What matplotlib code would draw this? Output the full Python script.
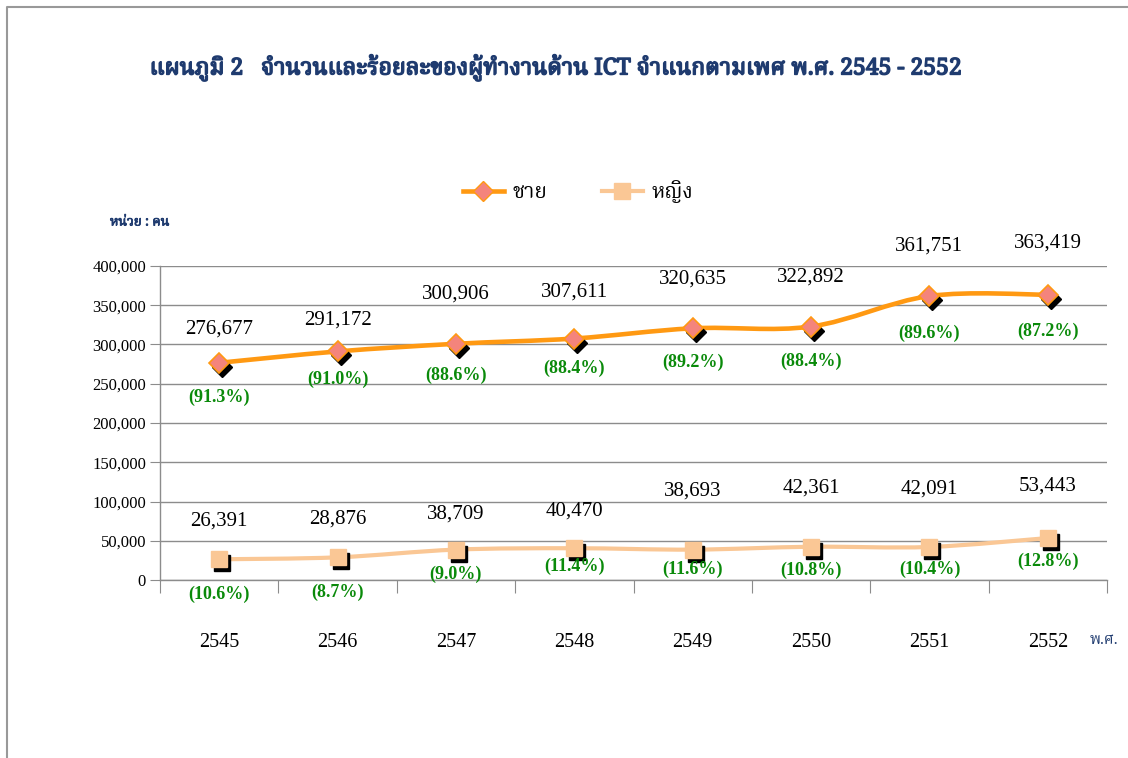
import matplotlib
matplotlib.use("Agg")
import matplotlib.pyplot as plt
from matplotlib import font_manager as fm
from matplotlib.path import Path
from matplotlib.patches import PathPatch
from matplotlib.lines import Line2D
import matplotlib.transforms as mtransforms
import matplotlib.patheffects as pe

# ---------------- data ----------------
years = ["2545", "2546", "2547", "2548", "2549", "2550", "2551", "2552"]
male = [276677, 291172, 300906, 307611, 320635, 322892, 361751, 363419]
female = [26391, 28876, 38709, 40470, 38693, 42361, 42091, 53443]
male_pct = [91.3, 91.0, 88.6, 88.4, 89.2, 88.4, 89.6, 87.2]
female_pct = [10.6, 8.7, 9.0, 11.4, 11.6, 10.8, 10.4, 12.8]
yticks = [0, 50000, 100000, 150000, 200000, 250000, 300000, 350000, 400000]

title = "แผนภูมิ 2   จำนวนและร้อยละของผู้ทำงานด้าน ICT จำแนกตามเพศ พ.ศ. 2545 - 2552"
legend_labels = ["ชาย", "หญิง"]
unit_label = "หน่วย : คน"
xunit_label = "พ.ศ."

# label offsets in pixels (style)
male_val_dy = [34, 31, 50, 46, 49, 49, 50, 52]
male_pct_dy = [35, 28, 32, 30, 34, 35, 37, 37]
female_val_dy = [38, 38, 36, 37, 59, 59, 58, 52]
female_pct_dy = [35, 35, 25, 18, 20, 24, 22, 23]


def find_thai():
    try:
        from fontTools.ttLib import TTFont
    except Exception:
        return None
    seen = set()
    cands = []
    for f in fm.fontManager.ttflist:
        if f.name in seen:
            continue
        seen.add(f.name)
        try:
            tt = TTFont(f.fname, fontNumber=0, lazy=True)
            cmap = tt.getBestCmap()
            if cmap and 0x0E0A in cmap and 0x0E2D in cmap:
                cands.append(f.name)
        except Exception:
            pass
    if not cands:
        return None
    for pref in ["Noto Serif Thai", "Noto Sans Thai", "Loma", "Garuda", "Tlwg Typo"]:
        if pref in cands:
            return pref
    return cands[0]


thai = find_thai()
SERIF = "Liberation Serif"
thai_fam = ([thai] if thai else []) + [SERIF, "DejaVu Sans"]
plt.rcParams["font.family"] = [SERIF, "DejaVu Sans"]

NAVY = "#1F3B6F"
GREEN = "#0A8A0A"
MALE_LINE = "#FF9912"
MALE_MARK = "#F4847C"
FEM = "#FAC795"
GRID = "#8C8C8C"

fig = plt.figure(figsize=(11.28, 7.58), dpi=100)
W, H = 1128, 758
ax = fig.add_axes([160 / W, 1 - 580 / H, (1107 - 160) / W, (580 - 266) / H])

xs = [i + 0.5 for i in range(len(years))]
ax.set_xlim(0, len(years))
ax.set_ylim(0, 400000)


def smooth_path(x, y):
    pts = list(zip(x, y))
    n = len(pts)
    verts = [pts[0]]
    codes = [Path.MOVETO]
    for i in range(n - 1):
        p0 = pts[i - 1] if i > 0 else pts[i]
        p1 = pts[i]
        p2 = pts[i + 1]
        p3 = pts[i + 2] if i + 2 < n else pts[i + 1]
        c1 = (p1[0] + (p2[0] - p0[0]) / 6, p1[1] + (p2[1] - p0[1]) / 6)
        c2 = (p2[0] - (p3[0] - p1[0]) / 6, p2[1] - (p3[1] - p1[1]) / 6)
        verts += [c1, c2, p2]
        codes += [Path.CURVE4] * 3
    return Path(verts, codes)


shadow = mtransforms.offset_copy(ax.transData, fig=fig, x=3, y=-4, units="dots")

for vals, color, lw in [(male, MALE_LINE, 3.3), (female, FEM, 3.0)]:
    patch = PathPatch(smooth_path(xs, vals), facecolor="none", edgecolor=color,
                      lw=lw, zorder=3, capstyle="round", joinstyle="round")
    ax.add_patch(patch)

# shadows
ax.plot(xs, male, linestyle="none", marker="D", ms=10, color="black",
        transform=shadow, zorder=4)
ax.plot(xs, female, linestyle="none", marker="s", ms=11.5, color="black",
        transform=shadow, zorder=4)
# markers
ax.plot(xs, male, linestyle="none", marker="D", ms=10, markerfacecolor=MALE_MARK,
        markeredgecolor=MALE_LINE, markeredgewidth=1.2, zorder=5)
ax.plot(xs, female, linestyle="none", marker="s", ms=11.5, markerfacecolor=FEM,
        markeredgecolor=FEM, zorder=5)

# labels
for i, x in enumerate(xs):
    ax.annotate(f"{male[i]:,}", (x, male[i]), xytext=(0, male_val_dy[i]),
                textcoords="offset pixels", ha="center", va="center",
                fontsize=15, color="black", family=SERIF, zorder=6)
    ax.annotate(f"({male_pct[i]:.1f}%)", (x, male[i]), xytext=(0, -male_pct_dy[i]),
                textcoords="offset pixels", ha="center", va="center",
                fontsize=13, color=GREEN, fontweight="bold", family=SERIF, zorder=6)
    ax.annotate(f"{female[i]:,}", (x, female[i]), xytext=(0, female_val_dy[i]),
                textcoords="offset pixels", ha="center", va="center",
                fontsize=15, color="black", family=SERIF, zorder=6)
    ax.annotate(f"({female_pct[i]:.1f}%)", (x, female[i]), xytext=(0, -female_pct_dy[i]),
                textcoords="offset pixels", ha="center", va="center",
                fontsize=13, color=GREEN, fontweight="bold", family=SERIF, zorder=6)

# axes styling
ax.set_yticks(yticks)
ax.set_yticklabels([f"{v:,}" for v in yticks])
ax.yaxis.grid(True, color=GRID, lw=1.0)
ax.set_axisbelow(True)
ax.tick_params(axis="y", length=7, color=GRID, labelsize=12, pad=3)
ax.set_xticks(range(len(years) + 1))
ax.set_xticklabels([""] * (len(years) + 1))
ax.set_xticks(xs, minor=True)
ax.set_xticklabels(years, minor=True)
ax.tick_params(axis="x", which="major", length=9, color=GRID)
ax.tick_params(axis="x", which="minor", length=0, labelsize=14.5, pad=38)
for s in ["top", "right"]:
    ax.spines[s].set_visible(False)
for s in ["left", "bottom"]:
    ax.spines[s].set_color(GRID)
    ax.spines[s].set_linewidth(1.0)

# legend
handles = [
    Line2D([], [], color=MALE_LINE, lw=3.3, marker="D", ms=10,
           markerfacecolor=MALE_MARK, markeredgecolor=MALE_LINE),
    Line2D([], [], color=FEM, lw=3.0, marker="s", ms=11,
           markerfacecolor=FEM, markeredgecolor=FEM),
]
leg = fig.legend(handles, legend_labels, loc="center", bbox_to_anchor=(578 / W, 1 - 192 / H),
                 ncol=2, frameon=False, handlelength=2.0, handletextpad=0.4,
                 columnspacing=2.6,
                 prop=fm.FontProperties(family=thai_fam, size=15))

# texts
bold_fx = [pe.withStroke(linewidth=1.1, foreground=NAVY)]
fig.text(555 / W, 1 - 68 / H, title, ha="center", va="center", fontsize=16.5,
         fontweight="bold", color=NAVY, family=thai_fam, path_effects=bold_fx)
fig.text(110 / W, 1 - 222 / H, unit_label, ha="left", va="center", fontsize=9.5,
         fontweight="bold", color=NAVY, family=thai_fam,
         path_effects=[pe.withStroke(linewidth=0.6, foreground=NAVY)])
fig.text(1090 / W, 1 - 640 / H, xunit_label, ha="left", va="center", fontsize=11,
         color=NAVY, family=thai_fam)

# outer border
fig.add_artist(Line2D([7 / W, 7 / W, 1.0], [0.0, 1 - 7 / H, 1 - 7 / H],
                      transform=fig.transFigure, color="#999999", lw=1.5))

fig.savefig("out.png", dpi=100, facecolor="white")
